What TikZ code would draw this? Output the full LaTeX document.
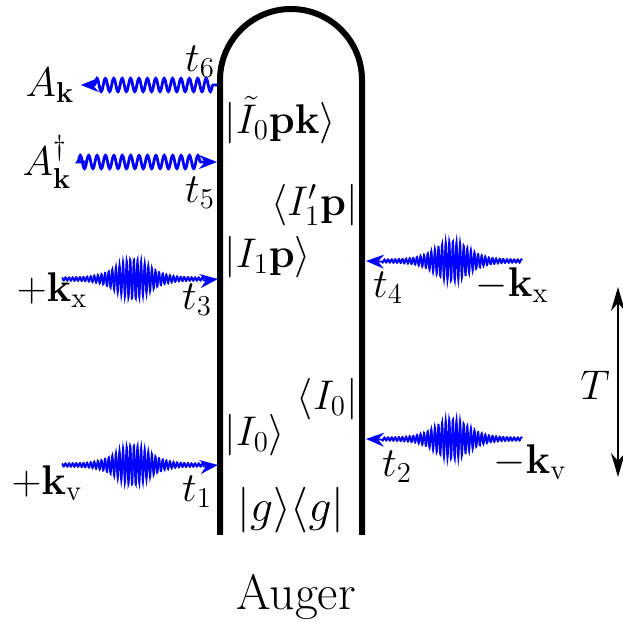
\documentclass[tikz,border=0pt]{standalone}
\usepackage{amsmath, amssymb}
\usepackage{graphicx}
\usepackage{tikz}
\usetikzlibrary{arrows.meta, decorations.pathmorphing}

\begin{document}
\begin{tikzpicture}[x=0.5pt, y=0.5pt,
    every node/.style={font=\huge, inner sep=1pt},
    wall/.style={line width=3pt},
    pulse/.style={blue, line width=0.9pt, -{Stealth[length=9pt, width=7pt, inset=3pt]}},
    photon/.style={blue, line width=1.4pt, decorate,
        decoration={snake, amplitude=3.3pt, segment length=4.2pt, pre length=2pt, post length=8pt},
        -{Stealth[length=9pt, width=7pt, inset=3pt]}},
    declare function={envq(\u)=1+(\u/44)*(\u/44); env(\u)=19/(envq(\u)*envq(\u)*envq(\u)*envq(\u))+1.5;}]

    \useasboundingbox (0, 0) rectangle (623, 621);

    % double-sided loop
    \draw[wall] (220, 86) -- (220, 541) arc[start angle=180, end angle=0, radius=71] -- (362, 86);

    % interaction points
    \coordinate (v1) at (218, 156);
    \coordinate (v2) at (366, 182);
    \coordinate (v3) at (218, 342);
    \coordinate (v4) at (366, 360);
    \coordinate (v5) at (217, 459);
    \coordinate (v6) at (217, 536);

    % incoming pulses, left
    \draw[pulse] plot[domain=-71:71, samples=401]
        ({133+\x}, {156+env(\x)*sin(100*\x)}) -- (v1);
    \draw[pulse] plot[domain=-71:71, samples=401]
        ({133+\x}, {342+env(\x)*sin(100*\x)}) -- (v3);

    % incoming pulses, right
    \draw[pulse] plot[domain=70:-70, samples=401]
        ({452+\x}, {182+env(\x)*sin(100*\x)}) -- (v2);
    \draw[pulse] plot[domain=70:-70, samples=401]
        ({452+\x}, {360+env(\x)*sin(100*\x)}) -- (v4);

    % emitted / absorbed photon
    \node (Ak) at (50, 536) {$A_{\mathbf{k}}$};
    \node (Akd) at (47, 459) {$A_{\mathbf{k}}^{\dagger}$};
    \draw[photon, shorten >=2pt] (v6) -- (Ak);
    \draw[photon, shorten <=6pt] (Akd) -- (v5);

    % times
    \node (t1) at (197, 129) {$t_1$};
    \node (t2) at (397, 154) {$t_2$};
    \node (t3) at (197, 321) {$t_3$};
    \node (t4) at (388, 333) {$t_4$};
    \node (t5) at (200, 428) {$t_5$};
    \node (t6) at (200, 559) {$t_6$};

    % wave vectors
    \node (kv) at (47, 138) {$+\mathbf{k}_{\mathrm{v}}$};
    \node (kx) at (52, 331) {$+\mathbf{k}_{\mathrm{x}}$};
    \node (mkx) at (512, 336) {$-\mathbf{k}_{\mathrm{x}}$};
    \node (mkv) at (530, 159) {$-\mathbf{k}_{\mathrm{v}}$};

    % states
    \node (gg) at (291, 111) {\scalebox{1.1}{$|g\rangle\langle g|$}};
    \node[anchor=west] (ketI0) at (222, 186) {$|I_0\rangle$};
    \node[anchor=east] (braI0) at (360, 222) {$\langle I_0|$};
    \node[anchor=west] (ketI1) at (222, 364) {$|I_1\mathbf{p}\rangle$};
    \node[anchor=east] (braI1) at (360, 416) {$\langle I_1'\mathbf{p}|$};
    \node[anchor=west] (ketIt) at (222, 501) {$|\tilde{I}_0\mathbf{p}\mathbf{k}\rangle$};

    % delay
    \coordinate (Ttop) at (618, 334);
    \coordinate (Tbot) at (618, 144);
    \draw[line width=1pt, {Stealth[length=12pt, width=7pt, inset=4pt]}-{Stealth[length=12pt, width=7pt, inset=4pt]}] (Ttop) -- (Tbot);
    \node (T) at (595, 236) {$T$};

    \node[font=\Huge] (auger) at (296, 24) {Auger};

\end{tikzpicture}
\end{document}
